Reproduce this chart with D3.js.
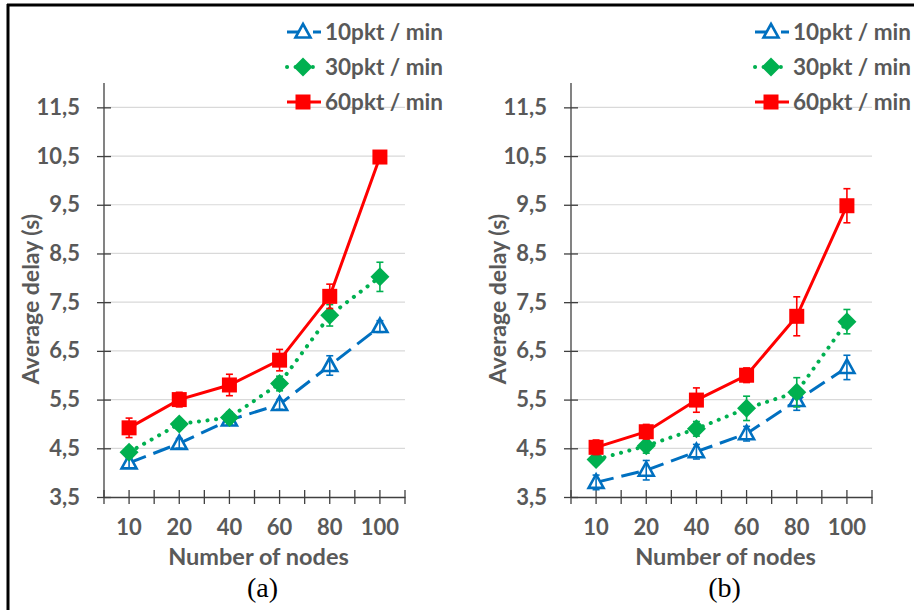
<!DOCTYPE html>
<html>
<head>
<meta charset="utf-8">
<script src="https://cdn.jsdelivr.net/npm/d3@7"></script>
<style>
  body { margin: 0; background: #fff; }
  svg { display: block; }
</style>
</head>
<body>
<div id="chart"></div>
<script>
// node counts on the x axis
const nodes = ["10", "20", "40", "60", "80", "100"];
const yTicks = [3.5, 4.5, 5.5, 6.5, 7.5, 8.5, 9.5, 10.5, 11.5];
const seriesNames = ["10pkt / min", "30pkt / min", "60pkt / min"];

// panel (a)
const delayA10 = [4.2, 4.6, 5.08, 5.4, 6.2, 7.0];
const errA10 = [0.1, 0.1, 0.1, 0.1, 0.2, 0.12];
const delayA30 = [4.42, 5.0, 5.13, 5.83, 7.23, 8.02];
const errA30 = [0.1, 0.1, 0.12, 0.15, 0.22, 0.3];
const delayA60 = [4.92, 5.5, 5.8, 6.31, 7.62, 10.48];
const errA60 = [0.2, 0.15, 0.22, 0.22, 0.25, 0.05];

// panel (b)
const delayB10 = [3.8, 4.05, 4.43, 4.8, 5.48, 6.16];
const errB10 = [0.15, 0.2, 0.15, 0.15, 0.2, 0.25];
const delayB30 = [4.27, 4.55, 4.9, 5.32, 5.65, 7.1];
const errB30 = [0.1, 0.15, 0.15, 0.25, 0.3, 0.25];
const delayB60 = [4.52, 4.84, 5.49, 6.0, 7.21, 9.48];
const errB60 = [0.15, 0.15, 0.25, 0.15, 0.4, 0.35];

const width = 914, height = 610;
const textColor = "#595959";
const font = "Lato, 'Open Sans', sans-serif";

const styles = [
  {color: "#0070C0", dash: "18,8", cap: "butt", marker: "triangle"},
  {color: "#00B050", dash: "0.1,8.5", cap: "round", marker: "diamond"},
  {color: "#FF0000", dash: null, cap: "butt", marker: "square"}
];

const locale = d3.formatLocale({decimal: ",", thousands: ".", grouping: [3], currency: ["", ""]});
const fmt = locale.format(".1f");

const svg = d3.select("#chart").append("svg")
  .attr("width", width)
  .attr("height", height);

// frame
svg.append("line").attr("x1", 7).attr("x2", width).attr("y1", 5).attr("y2", 5)
  .attr("stroke", "#000").attr("stroke-width", 3);
svg.append("line").attr("x1", 8).attr("x2", 8).attr("y1", 4).attr("y2", height)
  .attr("stroke", "#000").attr("stroke-width", 3);

function drawMarker(g, type, color, x, y) {
  if (type === "square") {
    g.append("rect").attr("x", x - 7.5).attr("y", y - 7.5)
      .attr("width", 15).attr("height", 15).attr("fill", color);
  } else if (type === "diamond") {
    g.append("path")
      .attr("d", `M${x},${y - 9.5}L${x + 9.5},${y}L${x},${y + 9.5}L${x - 9.5},${y}Z`)
      .attr("fill", color);
  } else {
    g.append("path")
      .attr("d", `M${x},${y - 8}L${x + 7.5},${y + 5.5}L${x - 7.5},${y + 5.5}Z`)
      .attr("fill", "#fff").attr("stroke", color).attr("stroke-width", 2.6)
      .attr("stroke-linejoin", "miter");
  }
}

function drawPanel(dx, label, data, errs) {
  const g = svg.append("g").attr("transform", `translate(${dx},0)`);

  const x = d3.scaleBand().domain(nodes).range([104, 405]);
  const y = d3.scaleLinear().domain([3.5, 12]).range([497, 83]);

  // grid
  g.append("g").selectAll("line")
    .data(yTicks.slice(1))
    .join("line")
    .attr("x1", x.range()[0]).attr("x2", x.range()[1])
    .attr("y1", d => y(d)).attr("y2", d => y(d))
    .attr("stroke", "#d9d9d9").attr("stroke-width", 1.2);

  // y axis
  const yAxis = g.append("g")
    .attr("transform", `translate(${x.range()[0]},0)`)
    .call(d3.axisLeft(y).tickValues(yTicks).tickFormat(fmt).tickSize(7).tickPadding(17));
  yAxis.select(".domain").attr("d", `M0,${y(12)}V${y(3.5)}`).attr("stroke", "#404040").attr("stroke-width", 1.3);
  yAxis.selectAll(".tick line").attr("x1", 7).attr("stroke", "#404040").attr("stroke-width", 1.3);
  yAxis.selectAll(".tick text")
    .attr("fill", textColor).style("font", `bold 22px ${font}`);

  // x axis
  const xAxis = g.append("g")
    .attr("transform", `translate(0,${y(3.5)})`)
    .call(d3.axisBottom(x).tickSize(7).tickSizeOuter(0).tickPadding(15));
  xAxis.select(".domain").attr("stroke", "#404040").attr("stroke-width", 1.3);
  xAxis.selectAll(".tick line").attr("y1", -7).attr("stroke", "#404040").attr("stroke-width", 1.3);
  xAxis.selectAll(".tick text")
    .attr("fill", textColor).style("font", `bold 22px ${font}`);
  // boundary ticks between categories
  const bounds = nodes.map(d => x(d)).concat([x.range()[1]]);
  xAxis.append("g").selectAll("line")
    .data(bounds)
    .join("line")
    .attr("x1", d => d).attr("x2", d => d)
    .attr("y1", -7).attr("y2", 7)
    .attr("stroke", "#404040").attr("stroke-width", 1.3);

  const cx = d => x(d) + x.bandwidth() / 2;

  // axis titles
  g.append("text")
    .attr("x", (x.range()[0] + x.range()[1]) / 2 + 4)
    .attr("y", 565)
    .attr("text-anchor", "middle")
    .attr("fill", textColor)
    .style("font", `bold 23.5px ${font}`)
    .text("Number of nodes");

  g.append("text")
    .attr("transform", `translate(39,299) rotate(-90)`)
    .attr("text-anchor", "middle")
    .attr("fill", textColor)
    .style("font", `bold 23px ${font}`)
    .text("Average delay (s)");

  g.append("text")
    .attr("x", (x.range()[0] + x.range()[1]) / 2 + label.shift)
    .attr("y", 597)
    .attr("text-anchor", "middle")
    .attr("fill", "#000")
    .style("font", "28px 'Liberation Serif', 'Times New Roman', serif")
    .text(label.text);

  // series
  data.forEach((vals, si) => {
    const st = styles[si];
    const pts = nodes.map((n, i) => ({n: n, v: vals[i], e: errs[si][i]}));
    const line = d3.line().x(d => cx(d.n)).y(d => y(d.v));
    const sg = g.append("g");
    sg.append("path")
      .datum(pts)
      .attr("d", line)
      .attr("fill", "none")
      .attr("stroke", st.color)
      .attr("stroke-width", st.marker === "diamond" ? 4 : 3)
      .attr("stroke-dasharray", st.dash)
      .attr("stroke-linecap", st.cap);

    pts.forEach(p => drawMarker(sg, st.marker, st.color, cx(p.n), y(p.v)));

    // error bars
    pts.forEach(p => {
      const px = cx(p.n);
      sg.append("line")
        .attr("x1", px).attr("x2", px)
        .attr("y1", y(p.v + p.e)).attr("y2", y(p.v - p.e))
        .attr("stroke", st.color).attr("stroke-width", 1.6);
      [p.v + p.e, p.v - p.e].forEach(v => {
        sg.append("line")
          .attr("x1", px - 3.5).attr("x2", px + 3.5)
          .attr("y1", y(v)).attr("y2", y(v))
          .attr("stroke", st.color).attr("stroke-width", 1.6);
      });
    });
  });

  // legend
  const lg = g.append("g");
  seriesNames.forEach((name, si) => {
    const st = styles[si];
    const ly = 32 + si * 35;
    const lx0 = label.legendX;
    lg.append("line")
      .attr("x1", lx0).attr("x2", lx0 + 34)
      .attr("y1", ly).attr("y2", ly)
      .attr("stroke", st.color)
      .attr("stroke-width", st.marker === "diamond" ? 4 : 3)
      .attr("stroke-dasharray", st.dash)
      .attr("stroke-linecap", st.cap);
    drawMarker(lg, st.marker, st.color, lx0 + 16, ly);
    lg.append("text")
      .attr("x", lx0 + 38)
      .attr("y", ly)
      .attr("dy", "0.35em")
      .attr("fill", textColor)
      .style("font", `bold 22.5px ${font}`)
      .text(name);
  });
}

drawPanel(0, {text: "(a)", shift: 8, legendX: 287},
  [delayA10, delayA30, delayA60], [errA10, errA30, errA60]);
drawPanel(467, {text: "(b)", shift: 3, legendX: 288},
  [delayB10, delayB30, delayB60], [errB10, errB30, errB60]);
</script>
</body>
</html>
